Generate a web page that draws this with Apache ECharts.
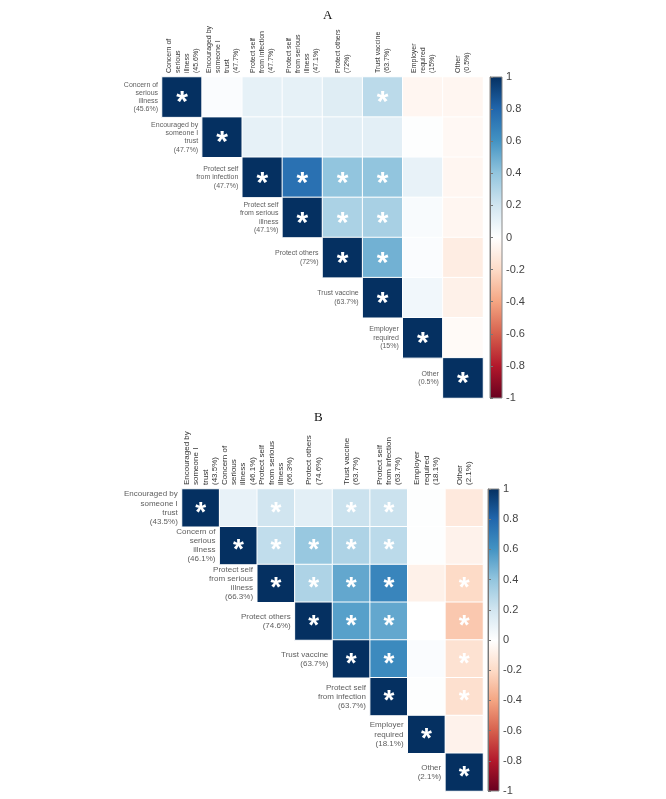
<!DOCTYPE html>
<html>
<head>
<meta charset="utf-8">
<script src="https://cdn.jsdelivr.net/npm/echarts@6/dist/echarts.min.js"></script>
<style>
  html, body { margin: 0; padding: 0; background: #fff; }
  #chart { width: 666px; height: 799px; }
</style>
</head>
<body>
<div id="chart"></div>
<script>
// RdBu palette, -1 -> 1
const rdbu = ['#67001F', '#B2182B', '#D6604D', '#F4A582', '#FDDBC7', '#FFFFFF',
  '#D1E5F0', '#92C5DE', '#4393C3', '#2166AC', '#053061']

// panel A
const labelsA = [
  'Concern of\nserious\nillness\n(45.6%)',
  'Encouraged by\nsomeone I\ntrust\n(47.7%)',
  'Protect self\nfrom infection\n(47.7%)',
  'Protect self\nfrom serious\nillness\n(47.1%)',
  'Protect others\n(72%)',
  'Trust vaccine\n(63.7%)',
  'Employer\nrequired\n(15%)',
  'Other\n(0.5%)'
]
const valuesA = [
  [1, 0.02, 0.11, 0.11, 0.14, 0.27, -0.05, -0.05],
  [null, 1, 0.11, 0.11, 0.12, 0.12, 0.01, -0.04],
  [null, null, 1, 0.75, 0.4, 0.4, 0.1, -0.05],
  [null, null, null, 1, 0.32, 0.33, 0.03, -0.05],
  [null, null, null, null, 1, 0.48, 0.02, -0.1],
  [null, null, null, null, null, 1, 0.06, -0.08],
  [null, null, null, null, null, null, 1, -0.03],
  [null, null, null, null, null, null, null, 1]
]
const starsA = [[0, 5], [1], [2, 3, 4, 5], [3, 4, 5], [4, 5], [5], [6], [7]]

// panel B
const labelsB = [
  'Encouraged by\nsomeone I\ntrust\n(43.5%)',
  'Concern of\nserious\nillness\n(46.1%)',
  'Protect self\nfrom serious\nillness\n(66.3%)',
  'Protect others\n(74.6%)',
  'Trust vaccine\n(63.7%)',
  'Protect self\nfrom infection\n(63.7%)',
  'Employer\nrequired\n(18.1%)',
  'Other\n(2.1%)'
]
const valuesB = [
  [1, 0.1, 0.2, 0.12, 0.22, 0.22, 0.01, -0.12],
  [null, 1, 0.25, 0.38, 0.31, 0.27, 0.01, -0.07],
  [null, null, 1, 0.31, 0.52, 0.66, -0.08, -0.2],
  [null, null, null, 1, 0.55, 0.52, 0.0, -0.27],
  [null, null, null, null, 1, 0.64, 0.02, -0.16],
  [null, null, null, null, null, 1, 0.01, -0.17],
  [null, null, null, null, null, null, 1, -0.07],
  [null, null, null, null, null, null, null, 1]
]
const starsB = [[0, 2, 4, 5], [1, 2, 3, 4, 5], [2, 3, 4, 5, 7], [3, 4, 5, 7], [4, 5, 7], [5, 7], [6], [7]]

const font = 'Liberation Sans, Arial, sans-serif'

// matrix -> heatmap rows [x, y, value, star]
function cells(values, stars) {
  let out = []
  values.forEach((row, i) => {
    row.forEach((v, j) => {
      if (v === null) return
      out.push([j, i, v, stars[i].indexOf(j) >= 0 ? 1 : 0])
    })
  })
  return out
}

// grid boxes
const boxA = { left: 162, top: 77, width: 321, height: 321 }
const boxB = { left: 182, top: 489, width: 301, height: 302 }
const barA = { left: 490, top: 77, width: 12, height: 321 }
const barB = { left: 488, top: 489, width: 11, height: 302 }

const gradient = {
  type: 'linear', x: 0, y: 0, x2: 0, y2: 1,
  colorStops: rdbu.slice().reverse().map((c, i) => ({ offset: i / (rdbu.length - 1), color: c }))
}

function heatAxes(labels, gridIndex, fs, lh) {
  return {
    x: {
      type: 'category', gridIndex, position: 'top', data: labels,
      axisLine: { show: false }, axisTick: { show: false },
      axisLabel: { rotate: -90, margin: 4, interval: 0, fontSize: fs, lineHeight: lh, color: '#333', fontFamily: font }
    },
    y: {
      type: 'category', gridIndex, inverse: true, data: labels,
      axisLine: { show: false }, axisTick: { show: false }, axisLabel: { show: false }
    }
  }
}

function barAxes(gridIndex) {
  return {
    x: { type: 'value', gridIndex, show: false, min: 0, max: 1 },
    y: {
      type: 'value', gridIndex, position: 'right', min: -1, max: 1, interval: 0.2,
      splitLine: { show: false },
      axisLine: { show: true, lineStyle: { color: '#777' } },
      axisTick: { show: true, length: 3, lineStyle: { color: '#777' } },
      axisLabel: {
        margin: 4, fontSize: 11, color: '#444', fontFamily: font,
        formatter: v => String(parseFloat(v.toFixed(1)))
      }
    }
  }
}

const hA = heatAxes(labelsA, 0, 7, 9)
const hB = heatAxes(labelsB, 1, 8, 9.3)
const cA = barAxes(2)
const cB = barAxes(3)

function heatSeries(values, stars, idx, starSize, starOffset) {
  return {
    type: 'heatmap', xAxisIndex: idx, yAxisIndex: idx,
    data: cells(values, stars),
    itemStyle: { borderColor: '#fff', borderWidth: 1 },
    label: {
      show: true, color: '#fff', fontSize: starSize, fontWeight: 'bold', fontFamily: font,
      offset: [0, starOffset],
      formatter: p => p.data[3] ? '*' : ''
    },
    emphasis: { disabled: true }
  }
}

function rowLabelSeries(labels, idx, dist, fs, lh) {
  return {
    type: 'scatter', xAxisIndex: idx, yAxisIndex: idx,
    symbolSize: 0, silent: true,
    data: labels.map((l, i) => [i, i, l]),
    label: {
      show: true, position: 'left', distance: dist, align: 'right',
      fontSize: fs, lineHeight: lh, color: '#333', fontFamily: font,
      formatter: p => p.data[2]
    }
  }
}

const chart = echarts.init(document.getElementById('chart'))
chart.setOption({
  backgroundColor: '#fff',
  animation: false,
  title: [
    { text: 'A', left: 318, top: 4, textStyle: { fontFamily: 'Liberation Serif, serif', fontSize: 13, fontWeight: 'normal', color: '#111' } },
    { text: 'B', left: 309, top: 406, textStyle: { fontFamily: 'Liberation Serif, serif', fontSize: 13, fontWeight: 'normal', color: '#111' } }
  ],
  grid: [
    boxA, boxB,
    Object.assign({ show: true, backgroundColor: gradient, borderColor: '#888', borderWidth: 1 }, barA),
    Object.assign({ show: true, backgroundColor: gradient, borderColor: '#888', borderWidth: 1 }, barB)
  ],
  xAxis: [hA.x, hB.x, cA.x, cB.x],
  yAxis: [hA.y, hB.y, cA.y, cB.y],
  visualMap: {
    type: 'continuous', show: false, min: -1, max: 1, dimension: 2,
    seriesIndex: [0, 1], inRange: { color: rdbu }
  },
  series: [
    heatSeries(valuesA, starsA, 0, 30, 6),
    heatSeries(valuesB, starsB, 1, 28, 5),
    rowLabelSeries(labelsA, 0, 24, 7, 8.3),
    rowLabelSeries(labelsB, 1, 23, 8, 9.1)
  ]
})
</script>
</body>
</html>
